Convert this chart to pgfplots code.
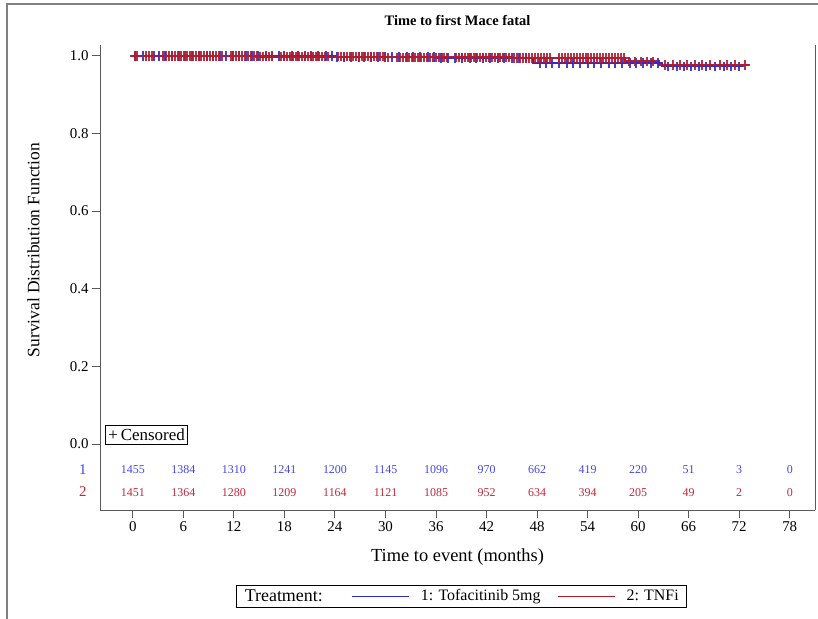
\documentclass[border=0pt]{standalone}
\usepackage{fontspec}
\setmainfont{Liberation Serif}
\usepackage{pgfplots}
\pgfplotsset{compat=1.18}
\definecolor{kmblue}{RGB}{45,45,205}
\definecolor{kmred}{RGB}{175,28,48}
\definecolor{txtblue}{RGB}{70,70,230}
\definecolor{txtred}{RGB}{190,40,60}
\definecolor{axgray}{RGB}{90,90,90}
\begin{document}
\begin{tikzpicture}
% outer frame (top and left edges only are visible)
\draw[gray, line width=1.6bp] (7bp,-619bp) -- (7bp,-4bp) -- (818bp,-4bp);
\begin{axis}[
  at={(100bp,-510bp)}, anchor=south west,
  scale only axis, width=715bp, height=465bp,
  xmin=-3.9, xmax=81, ymin=-0.17, ymax=1.028,
  axis x line=bottom, axis y line=left,
  axis line style={-, axgray, line width=1bp},
  every tick/.style={axgray, line width=1bp},
  tick align=outside, major tick length=8bp,
  xtick={0,6,...,78}, ytick={0,0.2,...,1.0},
  yticklabel style={/pgf/number format/.cd, fixed, fixed zerofill, precision=1},
  /pgf/number format/assume math mode=true,
  tick label style={font=\fontsize{15}{18}\selectfont},
  clip=false,
  title={\textbf{Time to first Mace fatal}},
  title style={at={(axis description cs:0.5,1.039)}, anchor=center, font=\fontsize{14.5}{17}\selectfont},
  xlabel={Time to event (months)},
  xlabel style={at={(axis description cs:0.5,-0.101)}, anchor=center, font=\fontsize{18.5}{22}\selectfont},
  ylabel={Survival Distribution Function},
  ylabel style={at={(axis description cs:-0.093,0.559)}, anchor=center, rotate=0, font=\fontsize{17.5}{21}\selectfont},
  legend columns=-1,
  legend style={at={(axis description cs:0.506,-0.185)}, anchor=center, draw=black, line width=0.8bp,
    font=\fontsize{16}{19}\selectfont, inner xsep=6bp, inner ysep=2.5bp,
    /tikz/every even column/.append style={column sep=15bp}},
  legend image code/.code={\draw[#1, line width=1bp] (0bp,0bp) -- (57bp,0bp);},
]
\addlegendimage{empty legend}
\addlegendentry{\fontsize{18}{21}\selectfont Treatment:\hspace*{12bp}}
% Kaplan-Meier step curves
\addplot[const plot, kmblue, line width=2bp] coordinates {
 (0,1) (12,0.999) (24,0.997) (36,0.995) (47.5,0.982) (62.8,0.973) (72.5,0.973)};
\addlegendentry{\hspace*{9bp}1: Tofacitinib 5mg}
\addplot[const plot, kmred, line width=2bp] coordinates {
 (0,1) (15,0.998) (30,0.996) (45,0.994) (58.4,0.986) (62.5,0.976) (73.2,0.976)};
\addlegendentry{\hspace*{9bp}2: TNFi}
% censored observations
\addplot[only marks, mark=+, mark size=4.8bp, kmblue, line width=2bp, opacity=0.9, forget plot] coordinates {
 (0.3,1) (1.2,1) (2.5,1) (3.1,1) (3.8,1) (4.6,1) (5.5,1) (6.2,1) (7.0,1) (7.9,1) (8.8,1) (9.5,1) (10.3,1) (11.1,1) (11.9,1)
 (12.6,0.999) (13.4,0.999) (14.1,0.999) (14.9,0.999) (15.8,0.999) (16.5,0.999) (17.3,0.999) (18.0,0.999) (18.9,0.999) (19.6,0.999) (20.4,0.999) (21.2,0.999) (22.0,0.999) (22.9,0.999) (23.6,0.999)
 (24.3,0.997) (25.1,0.997) (25.9,0.997) (26.8,0.997) (27.5,0.997) (28.3,0.997) (29.1,0.997) (30.0,0.997) (30.8,0.997) (31.6,0.997) (32.5,0.997) (33.3,0.997) (34.1,0.997) (35.0,0.997) (35.8,0.997)
 (36.6,0.995) (37.4,0.995) (38.3,0.995) (39.1,0.995) (40.0,0.995) (40.8,0.995) (41.6,0.995) (42.4,0.995) (43.3,0.995) (44.1,0.995) (45.0,0.995) (45.8,0.995) (46.7,0.995)
 (48.3,0.982) (49.0,0.982) (49.8,0.982) (50.6,0.982) (51.5,0.982) (52.3,0.982) (53.1,0.982) (54.0,0.982) (54.8,0.982) (55.6,0.982) (56.5,0.982) (57.3,0.982) (58.1,0.982) (59.0,0.982) (59.8,0.982) (60.6,0.982) (61.5,0.982) (62.3,0.982)
 (63.5,0.973) (64.6,0.973) (65.4,0.973) (66.3,0.973) (67.2,0.973) (68.0,0.973) (69.1,0.973) (70.2,0.973) (71.0,0.973) (72.0,0.973)};
\addplot[only marks, mark=+, mark size=4.8bp, kmred, line width=2bp, opacity=0.9, forget plot] coordinates {
 (0.2,1) (0.55,1) (1.6,1) (1.95,1) (2.3,1) (3.6,1) (3.95,1) (4.3,1) (4.65,1) (5.0,1) (5.35,1) (5.7,1) (6.05,1) (6.4,1) (6.75,1) (7.1,1) (7.45,1) (7.8,1) (8.15,1) (8.5,1) (8.85,1) (9.2,1) (9.55,1) (9.9,1) (10.25,1) (10.6,1) (11.6,1) (11.95,1) (12.3,1) (12.65,1) (13.0,1) (13.35,1) (13.7,1) (14.05,1) (14.4,1) (14.75,1)
 (15.1,0.998) (15.45,0.998) (15.8,0.998) (16.15,0.998) (16.5,0.998) (17.6,0.998) (17.95,0.998) (18.3,0.998) (18.65,0.998) (19.0,0.998) (19.35,0.998) (19.7,0.998) (20.05,0.998) (20.4,0.998) (20.75,0.998) (21.1,0.998) (21.45,0.998) (21.8,0.998) (22.15,0.998) (22.5,0.998) (22.85,0.998) (23.2,0.998) (24.4,0.998) (24.75,0.998) (25.1,0.998) (25.45,0.998) (25.8,0.998) (26.15,0.998) (26.5,0.998) (26.85,0.998) (27.2,0.998) (27.55,0.998) (27.9,0.998) (28.25,0.998) (28.6,0.998) (28.95,0.998) (29.3,0.998) (29.65,0.998)
 (30.0,0.996) (30.35,0.996) (31.4,0.996) (31.75,0.996) (32.1,0.996) (32.45,0.996) (32.8,0.996) (33.15,0.996) (33.5,0.996) (33.85,0.996) (34.2,0.996) (34.55,0.996) (34.9,0.996) (35.25,0.996) (35.6,0.996) (35.95,0.996) (36.3,0.996) (36.65,0.996) (37.0,0.996) (37.35,0.996) (38.4,0.996) (38.75,0.996) (39.1,0.996) (39.45,0.996) (39.8,0.996) (40.15,0.996) (40.5,0.996) (40.85,0.996) (41.2,0.996) (41.55,0.996) (41.9,0.996) (42.25,0.996) (42.6,0.996) (42.95,0.996) (43.3,0.996) (43.65,0.996) (44.0,0.996) (44.35,0.996) (44.7,0.996)
 (45.3,0.994) (45.65,0.994) (46.0,0.994) (46.35,0.994) (46.7,0.994) (47.05,0.994) (47.4,0.994) (47.75,0.994) (48.1,0.994) (48.45,0.994) (48.8,0.994) (49.15,0.994) (49.5,0.994) (50.6,0.994) (50.95,0.994) (51.3,0.994) (51.65,0.994) (52.0,0.994) (52.35,0.994) (52.7,0.994) (53.05,0.994) (53.4,0.994) (53.75,0.994) (54.1,0.994) (54.45,0.994) (54.8,0.994) (55.15,0.994) (55.5,0.994) (55.85,0.994) (56.2,0.994) (56.55,0.994) (56.9,0.994) (57.25,0.994) (57.6,0.994) (57.95,0.994) (58.3,0.994)
 (58.9,0.986) (59.6,0.986) (60.3,0.986) (61.0,0.986) (61.8,0.986)
 (63.2,0.976) (64.1,0.976) (65.0,0.976) (65.8,0.976) (66.7,0.976) (67.6,0.976) (68.5,0.976) (69.7,0.976) (70.6,0.976) (71.5,0.976) (72.7,0.976)};
% numbers at risk
\addplot[draw=none, mark=none, forget plot, nodes near coords, point meta=explicit symbolic,
  every node near coord/.style={anchor=center, text=txtblue, font=\fontsize{12}{14}\selectfont}]
  table[meta=n] {
x y n
0 -0.067 1455
6 -0.067 1384
12 -0.067 1310
18 -0.067 1241
24 -0.067 1200
30 -0.067 1145
36 -0.067 1096
42 -0.067 970
48 -0.067 662
54 -0.067 419
60 -0.067 220
66 -0.067 51
72 -0.067 3
78 -0.067 0
};
\addplot[draw=none, mark=none, forget plot, nodes near coords, point meta=explicit symbolic,
  every node near coord/.style={anchor=center, text=txtred, font=\fontsize{12}{14}\selectfont}]
  table[meta=n] {
x y n
0 -0.124 1451
6 -0.124 1364
12 -0.124 1280
18 -0.124 1209
24 -0.124 1164
30 -0.124 1121
36 -0.124 1085
42 -0.124 952
48 -0.124 634
54 -0.124 394
60 -0.124 205
66 -0.124 49
72 -0.124 2
78 -0.124 0
};
\draw[axgray, line width=1bp] (rel axis cs:1,0) -- (rel axis cs:1,1);
\node[anchor=center, text=txtblue, font=\fontsize{15}{18}\selectfont] at (axis description cs:-0.024,0.086) {1};
\node[anchor=center, text=txtred, font=\fontsize{15}{18}\selectfont] at (axis description cs:-0.024,0.039) {2};
\node[draw=black, line width=0.8bp, anchor=north west, inner xsep=3bp, inner ysep=3.5bp, font=\fontsize{17}{20}\selectfont]
  at (axis description cs:0.007,0.183) {+\,Censored};
\end{axis}
\pgfresetboundingbox
\path (0,0) rectangle (818bp,-619bp);
\end{tikzpicture}
\end{document}
